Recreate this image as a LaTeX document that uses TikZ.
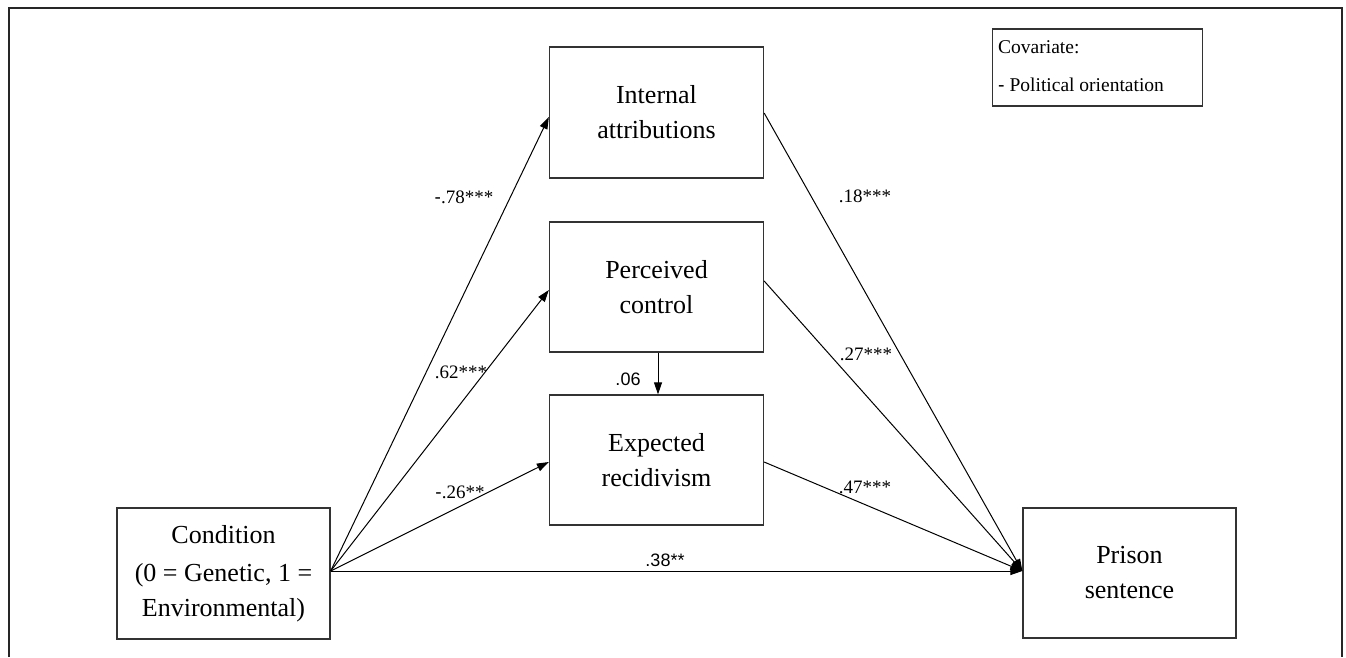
\documentclass[tikz,border=0pt]{standalone}
\usepackage{fontspec}
\setmainfont{Liberation Serif}
\newfontfamily\arial{Liberation Sans}
\usetikzlibrary{arrows.meta}
\begin{document}
\begin{tikzpicture}[x=1pt,y=-1pt,
  box/.style={draw=black!80,line width=1.3pt,rectangle,inner sep=0pt,align=center,
     font=\fontsize{26}{35}\selectfont},
  conn/.style={draw=black,line width=1pt,-{Triangle[length=12pt,width=8pt]}},
  coef/.style={font=\fontsize{19}{22}\selectfont,inner sep=0pt},
  coefs/.style={font=\arial\fontsize{18}{20}\selectfont,inner sep=0pt},
  covtext/.style={anchor=base west,inner sep=0pt,font=\fontsize{19.5}{22}\selectfont}]
\useasboundingbox (0,0) rectangle (1346,657);
% outer frame (open at the bottom)
\draw[line width=2pt,black!85] (9,657) -- (9,8) -- (1342,8) -- (1342,657);
% nodes
\node[box,minimum width=213pt,minimum height=131pt] (cond) at (223.5,573.5)
  {Condition\\[3pt](0 = Genetic, 1 =\\Environmental)};
\node[box,minimum width=214pt,minimum height=131pt] (int) at (656.5,112.5) {Internal\\attributions};
\node[box,minimum width=214pt,minimum height=130pt] (per) at (656.5,287) {Perceived\\control};
\node[box,minimum width=214pt,minimum height=130pt] (exp) at (656.5,460) {Expected\\recidivism};
\node[box,minimum width=213pt,minimum height=130pt] (pri) at (1129.5,573) {Prison\\sentence};
\node[draw=black!80,line width=1.3pt,rectangle,minimum width=210pt,minimum height=77pt] (cov) at (1097.5,67.5) {};
\node[covtext] (covt) at (998,53) {Covariate:};
\node[covtext] (covp) at (998,91) {{\arial -} Political orientation};
% connectors
\coordinate (src) at ([yshift=2.5pt]cond.east);
\coordinate (dst) at ([yshift=2pt]pri.west);
\draw[conn] (src) -- ([yshift=-4.5pt]int.west);
\draw[conn] (src) -- ([yshift=-3pt]per.west);
\draw[conn] (src) -- ([yshift=-2pt]exp.west);
\draw[conn] (src) -- (dst);
\draw[conn] ([yshift=-0.5pt]int.east) -- (dst);
\draw[conn] ([yshift=6pt]per.east) -- (dst);
\draw[conn] ([yshift=-2pt]exp.east) -- (dst);
\draw[conn] ([xshift=1.5pt]per.south) -- ([xshift=1.5pt]exp.north);
% labels
\node[coef] (l1) at (464,197) {{\arial -}.78***};
\node[coef] (l2) at (461,372) {.62***};
\node[coef] (l3) at (460,492) {{\arial -}.26**};
\node[coefs] (l4) at (628,379) {.06};
\node[coefs] (l5) at (665,560) {.38**};
\node[coef] (l6) at (865,196) {.18***};
\node[coef] (l7) at (866,354) {.27***};
\node[coef] (l8) at (865,487) {.47***};
\end{tikzpicture}
\end{document}
